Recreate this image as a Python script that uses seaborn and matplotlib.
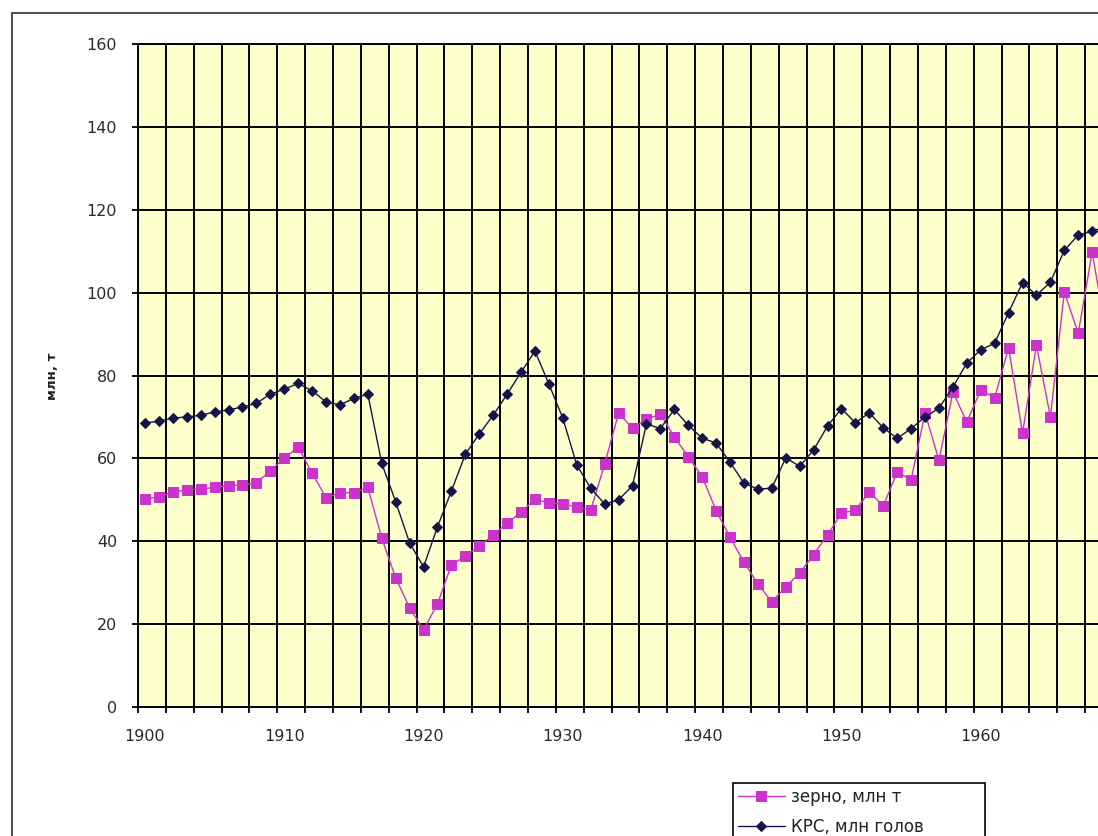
import numpy as np
import pandas as pd
import matplotlib
matplotlib.use('Agg')
import matplotlib.pyplot as plt
from matplotlib.patches import Rectangle
import seaborn as sns

# Data (1900-1969)
years = list(range(1900, 1970))
grain = [50.2, 50.7, 51.9, 52.4, 52.6, 53.0, 53.4, 53.6, 54.1, 57.0,
         60.0, 62.8, 56.4, 50.5, 51.7, 51.7, 53.0, 40.7, 31.2, 23.9,
         18.6, 24.9, 34.3, 36.4, 38.8, 41.5, 44.4, 47.0, 50.2, 49.2,
         49.0, 48.3, 47.5, 58.6, 70.9, 67.3, 69.4, 70.7, 65.2, 60.4,
         55.6, 47.4, 41.0, 34.9, 29.7, 25.4, 29.0, 32.3, 36.8, 41.5,
         46.8, 47.5, 51.9, 48.5, 56.7, 54.8, 71.0, 59.5, 76.0, 68.8,
         76.5, 74.6, 86.7, 66.1, 87.3, 70.0, 100.1, 90.2, 109.8, 90.0]
cattle = [68.5, 69.0, 69.7, 70.0, 70.4, 71.2, 71.7, 72.4, 73.3, 75.5,
          76.7, 78.1, 76.3, 73.6, 72.9, 74.5, 75.5, 58.8, 49.5, 39.6,
          33.8, 43.5, 52.1, 61.0, 65.9, 70.4, 75.5, 80.8, 85.9, 77.9,
          69.7, 58.4, 52.8, 49.0, 50.0, 53.4, 68.3, 67.2, 71.8, 68.0,
          64.9, 63.7, 59.1, 54.0, 52.6, 52.8, 60.1, 58.1, 62.0, 67.8,
          72.0, 68.6, 71.0, 67.4, 64.8, 67.2, 70.0, 72.1, 77.2, 83.0,
          86.2, 87.8, 95.2, 102.4, 99.4, 102.5, 110.2, 113.9, 114.8, 116.0]
grain_label = 'зерно, млн т'
cattle_label = 'КРС, млн голов'
y_title = 'млн, т'
y_ticks = list(range(0, 161, 20))
x_label_years = list(range(1900, 1971, 10))

df = pd.DataFrame({'year': years, 'grain': grain, 'cattle': cattle})

sns.set_theme(style='white')
plt.rcParams['font.family'] = ['DejaVu Sans']

W, H = 1098, 836
fig = plt.figure(figsize=(W / 100, H / 100), dpi=100)
fig.patch.set_facecolor('white')

# plot area runs past the right edge, as in the cropped original
ax = fig.add_axes([138 / W, 129 / H, 989 / W, 663 / H])
ax.set_facecolor('#FFFFCC')

sns.lineplot(data=df, x='year', y='grain', ax=ax, color='#CC33CC',
             marker='s', markersize=6.5, markeredgecolor='#CC33CC',
             linewidth=1.0, label=grain_label, zorder=3)
sns.lineplot(data=df, x='year', y='cattle', ax=ax, color='#14144A',
             marker='D', markersize=5, markeredgecolor='#14144A',
             linewidth=1.0, label=cattle_label, zorder=4)

ax.set_xlim(1899.5, 1970.5)
ax.set_ylim(0, 160)
ax.set_yticks(y_ticks)
ax.set_xticks(x_label_years)
ax.set_xticks(np.arange(1899.5, 1971, 2), minor=True)
ax.set_xlabel('')
ax.set_ylabel('')

ax.tick_params(axis='x', which='major', length=0, pad=16, labelsize=11.5,
               labelcolor='#2a2a2a', bottom=True)
ax.tick_params(axis='x', which='minor', length=4, width=1.3, color='black',
               direction='out', bottom=True)
ax.tick_params(axis='y', which='major', length=4, width=1.3, color='black',
               direction='out', pad=11, labelsize=11.5, labelcolor='#2a2a2a',
               left=True)

ax.grid(False)
ax.grid(True, which='minor', axis='x', color='black', linewidth=1.4)
ax.grid(True, which='major', axis='y', color='black', linewidth=1.4)
ax.set_axisbelow(True)
for side in ['left', 'bottom', 'top', 'right']:
    ax.spines[side].set_color('black')
    ax.spines[side].set_linewidth(1.4)

fig.text(52 / W, 1 - 376 / H, y_title, rotation=90, ha='center', va='center',
         fontsize=9.5, fontweight='bold', color='#222222')

# legend box, cut by the bottom edge like the original
handles, labels = ax.get_legend_handles_labels()
ax.get_legend().remove()
leg = fig.legend(handles, labels, loc='upper left',
                 bbox_to_anchor=(733 / W, 0, 252 / W, 1 - 783 / H),
                 mode='expand', frameon=True, fancybox=False, framealpha=1,
                 edgecolor='black', fontsize=12, borderpad=0.3,
                 labelspacing=0.7, handlelength=2.8, handletextpad=0.4,
                 borderaxespad=0)
leg.get_frame().set_linewidth(1.2)
for t in leg.get_texts():
    t.set_color('#222222')

# outer chart border
fig.add_artist(Rectangle((12 / W, -0.1), 2, 1 - 13 / H + 0.1,
                         transform=fig.transFigure, fill=False,
                         edgecolor='#505050', linewidth=1.5))

fig.savefig('out.png', dpi=100)
